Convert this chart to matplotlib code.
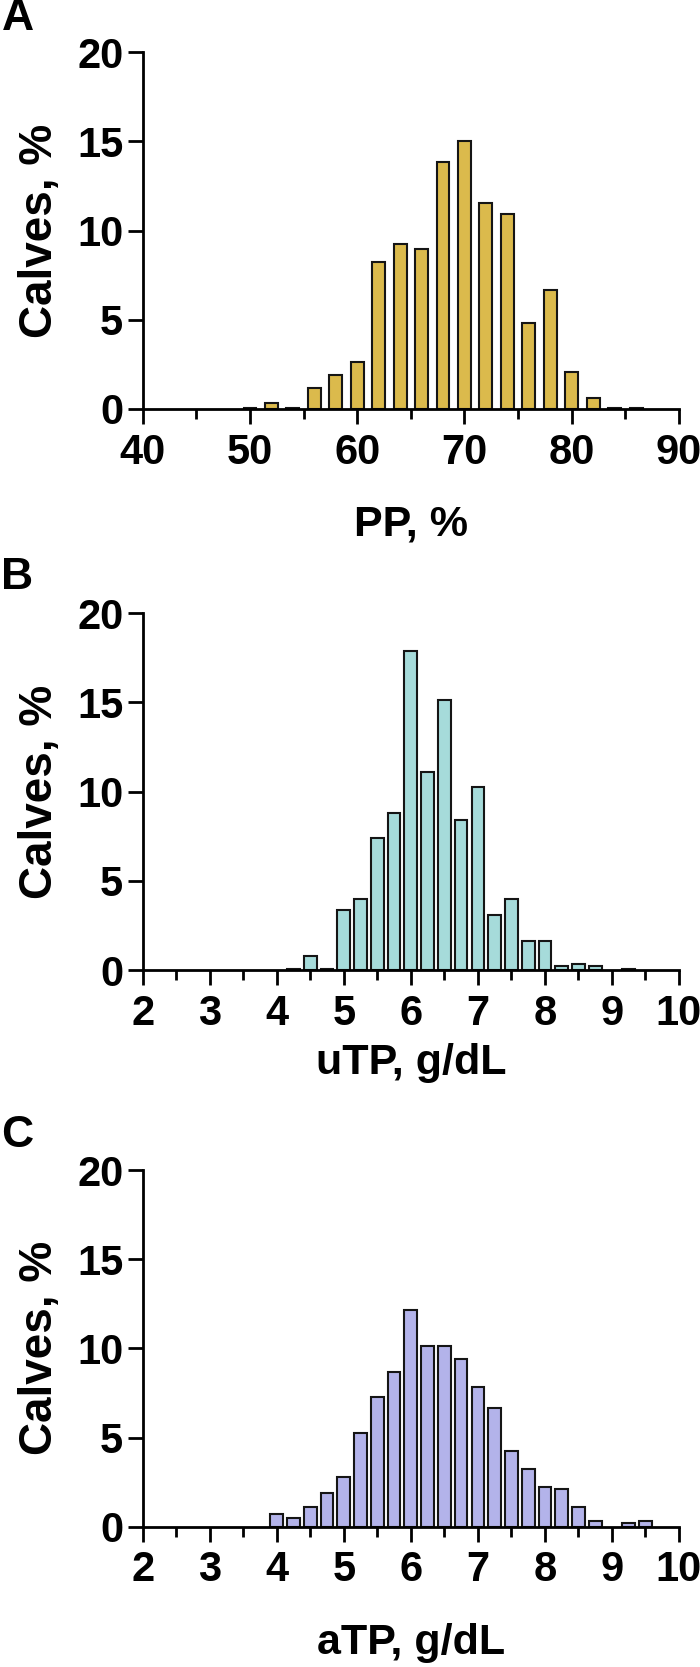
import numpy as np
import matplotlib
matplotlib.use("Agg")
import matplotlib.pyplot as plt
from matplotlib.ticker import MultipleLocator

plt.rcParams['font.family'] = ['Liberation Sans', 'DejaVu Sans']
plt.rcParams['font.weight'] = 'bold'

# Panel A - PP, %
pp_bins = [50, 52, 54, 56, 58, 60, 62, 64, 66, 68, 70, 72, 74, 76, 78, 80, 82, 84, 86]
pp_pct = [0.06, 0.34, 0.06, 1.2, 1.9, 2.61, 8.24, 9.24, 8.96, 13.86, 15.0,
          11.56, 10.96, 4.82, 6.65, 2.05, 0.63, 0.06, 0.06]

# Panel B - uTP, g/dL
utp_bins = [4.25, 4.5, 4.75, 5.0, 5.25, 5.5, 5.75, 6.0, 6.25, 6.5, 6.75, 7.0,
            7.25, 7.5, 7.75, 8.0, 8.25, 8.5, 8.75, 9.25]
utp_pct = [0.05, 0.78, 0.05, 3.36, 3.96, 7.41, 8.82, 17.87, 11.12, 15.13, 8.4,
           10.26, 3.08, 3.96, 1.64, 1.64, 0.2, 0.35, 0.2, 0.04]

# Panel C - aTP, g/dL
atp_bins = [4.0, 4.25, 4.5, 4.75, 5.0, 5.25, 5.5, 5.75, 6.0, 6.25, 6.5, 6.75,
            7.0, 7.25, 7.5, 7.75, 8.0, 8.25, 8.5, 8.75, 9.25, 9.5]
atp_pct = [0.74, 0.49, 1.08, 1.9, 2.8, 5.24, 7.26, 8.7, 12.13, 10.13, 10.13, 9.4,
           7.84, 6.66, 4.23, 3.23, 2.21, 2.09, 1.08, 0.33, 0.23, 0.33]

W, H = 700, 1667
fig = plt.figure(figsize=(W / 100, H / 100), dpi=100)

left = 142.7
right = 679
ax_h = 356.7


def make_panel(zero_y, bins, vals, width, color, xlim, xmajor, xminor, xlabel, xlabel_y, letter, letter_y):
    ax = fig.add_axes([left / W, 1 - zero_y / H, (right - left) / W, ax_h / H])
    ax.bar(bins, vals, width=width, color=color, edgecolor='#151515', linewidth=1.5, zorder=2)
    ax.set_xlim(*xlim)
    ax.set_ylim(0, 20)
    ax.yaxis.set_major_locator(MultipleLocator(5))
    ax.xaxis.set_major_locator(MultipleLocator(xmajor))
    ax.xaxis.set_minor_locator(MultipleLocator(xminor))
    for s in ['top', 'right']:
        ax.spines[s].set_visible(False)
    for s in ['left', 'bottom']:
        ax.spines[s].set_linewidth(2.0)
        ax.spines[s].set_zorder(3)
    ax.tick_params(axis='both', which='major', length=11, width=2.0, labelsize=30, direction='out')
    ax.tick_params(axis='x', which='minor', length=7, width=2.0)
    ax.tick_params(axis='x', which='major', pad=6)
    ax.tick_params(axis='y', which='major', pad=3)
    for lab in ax.get_xticklabels() + ax.get_yticklabels():
        lab.set_fontweight('bold')

    ax.set_ylabel('Calves, %', fontsize=33, fontweight='bold')
    ax.yaxis.set_label_coords((40 - left) / (right - left), 0.5)
    ax.yaxis.label.set_verticalalignment('center')

    ax.set_xlabel(xlabel, fontsize=31, fontweight='bold')
    ax.xaxis.set_label_coords(0.5, (zero_y - xlabel_y) / ax_h)
    ax.xaxis.label.set_verticalalignment('center')

    fig.text(0.002, 1 - letter_y / H, letter, fontsize=32, fontweight='bold', ha='left', va='top')
    return ax


make_panel(409, pp_bins, pp_pct, 1.2, '#DBBA4C', (40, 90), 10, 5, 'PP, %', 525, 'A', -2)
make_panel(970, utp_bins, utp_pct, 0.19, '#A6DBDA', (2, 10), 1, 0.5, 'uTP, g/dL', 1063, 'B', 557)
make_panel(1526.7, atp_bins, atp_pct, 0.19, '#B3B3EA', (2, 10), 1, 0.5, 'aTP, g/dL', 1643, 'C', 1115)

fig.savefig('out.png', dpi=100)
